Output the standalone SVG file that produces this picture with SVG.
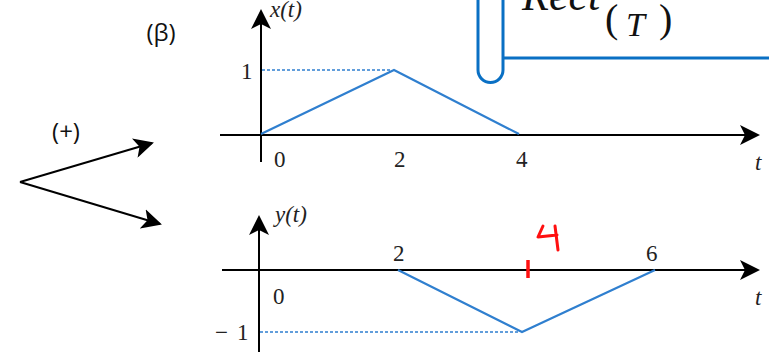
<svg xmlns="http://www.w3.org/2000/svg" width="769" height="354" viewBox="0 0 769 354">
<style>
.ax{stroke:#000;stroke-width:2;fill:none}
.sig{stroke:#2f7fcf;stroke-width:2.2;fill:none}
.dash{stroke:#2f7fcf;stroke-width:1.4;stroke-dasharray:3 2;fill:none}
.m{font-family:"Liberation Serif","DejaVu Serif",serif;font-size:23px;fill:#222}
.mi{font-family:"Liberation Serif","DejaVu Serif",serif;font-style:italic;font-size:23px;fill:#222}
.s{font-family:"Open Sans","Liberation Sans",sans-serif;font-size:24px;fill:#111}
.f{font-family:"Liberation Serif","DejaVu Serif",serif;fill:#111}
</style>
<defs>
<marker id="ah2" viewBox="0 0 10 10" refX="9" refY="5" markerWidth="20" markerHeight="20" markerUnits="userSpaceOnUse" orient="auto">
<path d="M0,0 L10,5 L0,10 L2.5,5 Z" fill="#000"/>
</marker>
</defs>

<g id="formula-box">
<path d="M478,0 V70 A12.5,12.5 0 0 0 503,70 V0 M503,58 H769" stroke="#0a70c4" stroke-width="3" fill="none"/>
<text class="f" x="522" y="10" font-style="italic" font-size="44">Rect</text>
<text class="f" x="605" y="32" font-size="40">(</text>
<text class="f" x="626" y="36" font-style="italic" font-size="34">T</text>
<text class="f" x="659" y="32" font-size="40">)</text>
</g>

<g id="label-beta"><text class="s" x="161" y="41" text-anchor="middle">(β)</text></g>
<g id="label-plus"><text class="s" x="66" y="140" text-anchor="middle">(+)</text></g>

<g id="connectors">
<line class="ax" x1="20" y1="182" x2="152" y2="143" stroke-width="1.8" marker-end="url(#ah2)"/>
<line class="ax" x1="20" y1="182" x2="160" y2="224" stroke-width="1.8" marker-end="url(#ah2)"/>
</g>

<g id="graph-x">
<line class="ax" x1="261" y1="162" x2="261" y2="11" marker-end="url(#ah2)"/>
<line class="ax" x1="220" y1="135" x2="758" y2="135" marker-end="url(#ah2)"/>
<line class="dash" x1="262" y1="70" x2="392" y2="70"/>
<polyline class="sig" points="261,134 394,70 519,134"/>
<text class="mi" x="270" y="17">x(t)</text>
<text class="m" x="241" y="79" fill="#3a2a70">1</text>
<text class="m" x="274" y="167">0</text>
<text class="m" x="394" y="167">2</text>
<text class="m" x="516" y="167">4</text>
<text class="mi" x="755" y="170">t</text>
</g>

<g id="graph-y">
<line class="ax" x1="259" y1="352" x2="259" y2="217" marker-end="url(#ah2)"/>
<line class="ax" x1="222" y1="270" x2="758" y2="270" marker-end="url(#ah2)"/>
<line class="dash" x1="260" y1="332" x2="520" y2="332"/>
<polyline class="sig" points="398,270 522,332 655,270"/>
<text class="mi" x="275" y="222">y(t)</text>
<text class="m" x="273" y="304">0</text>
<text class="m" x="215" y="340" fill="#999">−</text>
<text class="m" x="237" y="340" fill="#2f6fb0">1</text>
<text class="m" x="393" y="261">2</text>
<text class="m" x="646" y="261">6</text>
<text class="mi" x="755" y="305">t</text>
<line x1="528" y1="260" x2="528" y2="278" stroke="#ff1010" stroke-width="3.5"/>
<path d="M543,226 L538,237 L557,235 M555,226 L558,250" stroke="#ff1010" stroke-width="3" fill="none" stroke-linecap="round" stroke-linejoin="round"/>
</g>
</svg>
